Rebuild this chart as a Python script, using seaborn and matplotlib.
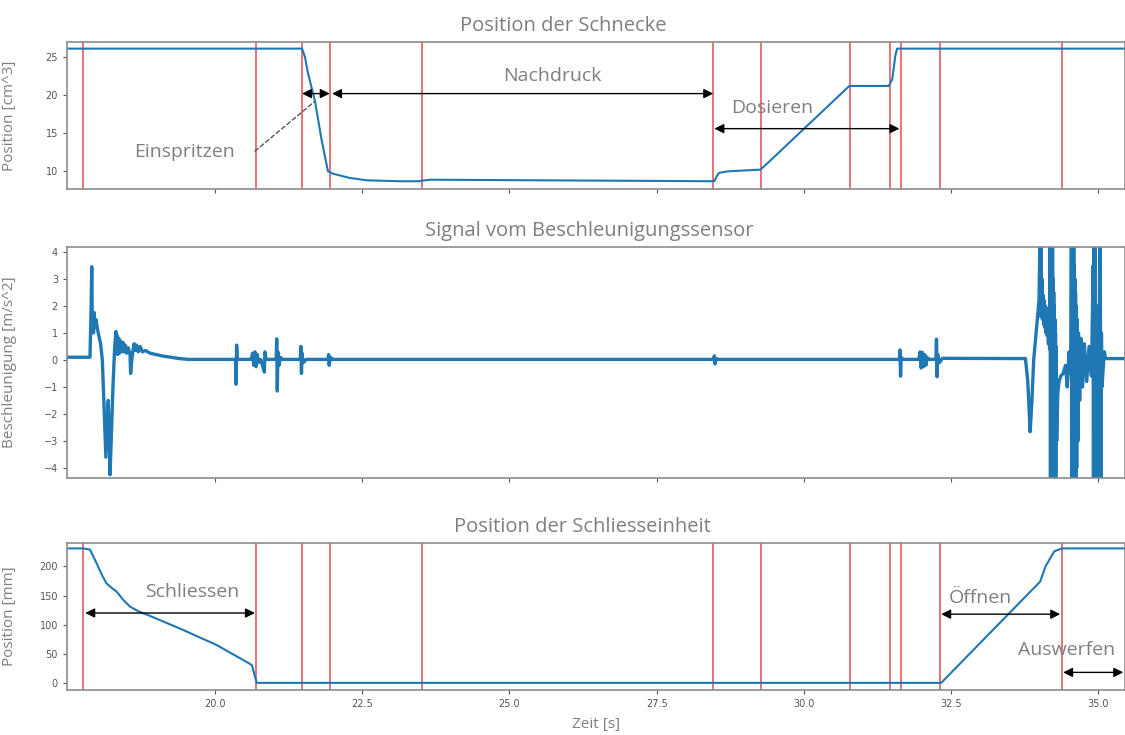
import numpy as np
import pandas as pd
import matplotlib
matplotlib.use("Agg")
import matplotlib.pyplot as plt
import seaborn as sns

# ---------------- data ----------------
# Screw position [cm^3]
screw_t = [17.49, 21.48, 21.53, 21.58, 21.70, 21.81, 21.92, 22.00, 22.29, 22.58, 23.14, 23.45,
           23.65, 25.5, 27.0, 28.40, 28.48, 28.53, 28.56, 28.71, 29.26, 29.40, 30.77, 31.44,
           31.50, 31.55, 31.58, 35.5]
screw_v = [26.1, 26.1, 25.0, 22.9, 19.2, 14.2, 10.0, 9.7, 9.13, 8.82, 8.70, 8.70,
           8.90, 8.82, 8.76, 8.70, 8.72, 9.50, 9.80, 10.0, 10.22, 11.2, 21.2, 21.2,
           22.1, 25.1, 26.1, 26.1]

# Acceleration [m/s^2]
acc_t = [17.49, 17.88, 17.90, 17.91, 17.92, 17.93, 17.94, 17.95, 17.96, 17.98, 18.02,
         18.06, 18.09, 18.12, 18.15, 18.17, 18.19, 18.21, 18.22, 18.24, 18.27, 18.30,
         18.32, 18.33, 18.34, 18.35, 18.37, 18.38, 18.40, 18.42, 18.44, 18.46, 18.48,
         18.50, 18.53, 18.56, 18.57, 18.59, 18.61, 18.63, 18.65, 18.67, 18.70, 18.73,
         18.77, 18.82, 18.90, 19.00, 19.10, 19.25, 19.40, 19.55, 20.35, 20.36, 20.37,
         20.38, 20.62, 20.64, 20.66, 20.68, 20.70, 20.72, 20.74, 20.78, 20.84, 20.85,
         20.87, 21.04, 21.05, 21.06, 21.07, 21.09, 21.11, 21.15, 21.45, 21.46, 21.47,
         21.48, 21.50, 21.55, 21.92, 21.93, 21.94, 21.96, 22.00, 28.46, 28.48, 28.49,
         28.51, 28.55, 31.62, 31.63, 31.64, 31.65, 31.68, 31.95, 31.97, 31.99, 32.01,
         32.03, 32.05, 32.07, 32.09, 32.12, 32.24, 32.25, 32.26, 32.27, 32.30, 32.35,
         33.76, 33.80, 33.84, 33.87, 33.90, 33.95, 33.99, 34.005, 34.01, 34.015, 34.02,
         34.025, 34.03, 34.04, 34.05, 34.06, 34.07, 34.08, 34.09, 34.10, 34.11, 34.12,
         34.13, 34.14, 34.15, 34.16, 34.17, 34.18, 34.185, 34.19, 34.195, 34.20, 34.205,
         34.21, 34.215, 34.22, 34.225, 34.23, 34.235, 34.24, 34.245, 34.25, 34.255, 34.26,
         34.265, 34.27, 34.275, 34.28, 34.29, 34.31, 34.33, 34.36, 34.40, 34.44, 34.47,
         34.50, 34.53, 34.54, 34.545, 34.55, 34.555, 34.56, 34.565, 34.57, 34.575, 34.58,
         34.585, 34.59, 34.595, 34.60, 34.605, 34.61, 34.615, 34.62, 34.63, 34.64, 34.65,
         34.66, 34.68, 34.70, 34.73, 34.76, 34.80, 34.84, 34.88, 34.91, 34.915, 34.92,
         34.93, 34.94, 34.95, 34.96, 34.97, 34.98, 34.99, 35.00, 35.01, 35.02, 35.025,
         35.03, 35.04, 35.05, 35.06, 35.08, 35.10, 35.12, 35.5]
acc_v = [0.10, 0.10, 2.0, 3.45, 1.1, 1.6, 1.0, 1.75, 1.2, 1.5, 1.0,
         0.6, 0.0, -1.8, -3.6, -2.5, -1.5, -3.0, -4.25, -3.0, -1.0, 0.5,
         1.05, 0.3, 0.9, 0.2, 0.8, 0.25, 0.7, 0.3, 0.65, 0.3, 0.55,
         0.25, 0.45, 0.2, -0.5, 0.0, 0.35, 0.6, 0.35, 0.55, 0.3, 0.5,
         0.3, 0.35, 0.25, 0.2, 0.15, 0.1, 0.05, 0.02, 0.02, -0.9, 0.55,
         0.02, 0.02, 0.25, -0.2, 0.3, -0.25, 0.2, -0.1, 0.02, -0.45, 0.3,
         0.02, 0.02, 0.78, -1.15, 0.3, -0.2, 0.1, 0.02, 0.02, 0.5, -0.5,
         0.25, -0.1, 0.02, 0.02, 0.2, -0.2, 0.1, 0.02, 0.02, 0.15, -0.15,
         0.05, 0.02, 0.02, 0.37, -0.6, 0.1, 0.02, 0.02, 0.3, -0.3, 0.28,
         -0.25, 0.2, -0.2, 0.1, 0.02, 0.02, 0.77, -0.62, 0.2, -0.1, 0.06,
         0.05, -0.8, -2.66, -1.5, 0.0, 1.2, 2.2, 4.3, 1.8, 4.3, 1.6,
         4.3, 2.0, 3.0, 1.5, 2.4, 1.3, 2.2, 1.2, 2.0, 1.0, 1.9,
         0.9, 1.6, 0.6, 1.4, 0.4, 4.3, -4.5, 4.3, -4.5, 4.3, -4.5,
         4.3, -4.5, 4.3, -4.5, 3.0, -4.5, 2.5, -4.5, 2.0, -4.5, 1.5,
         -4.5, 1.0, -4.5, 0.5, -3.0, -1.2, -0.8, -0.6, -0.5, -0.2, -1.0,
         0.3, -0.5, 4.3, -4.5, 4.3, -4.5, 4.3, -4.5, 4.3, -4.5, 4.3,
         -4.5, 3.5, -4.5, 3.0, -4.5, 2.5, -4.5, 2.0, -4.0, 1.5, -3.0,
         1.0, -1.5, 0.8, -1.0, 0.6, -0.8, 0.5, -0.6, 3.5, -4.5, 4.3,
         -4.5, 4.3, -2.0, 1.5, -4.5, 2.0, -2.0, 1.0, -1.5, 4.3, -4.5,
         4.3, -4.5, 1.0, -1.0, -0.3, 0.3, 0.05, 0.05]

# Clamping unit position [mm]
clamp_t = [17.49, 17.76, 17.88, 17.99, 18.08, 18.16, 18.25, 18.33, 18.45, 18.56, 18.70,
           18.90, 19.46, 20.03, 20.59, 20.63, 20.71, 32.33, 34.01, 34.10, 34.25, 34.38, 35.5]
clamp_v = [231, 231, 229, 206, 186, 171, 163, 157, 142, 131, 123,
           115, 91, 65, 33, 30, 0, 0, 174, 200, 226, 231, 231]

# Phase boundaries (red vertical lines) [s]
event_times = [17.76, 20.70, 21.48, 21.95, 23.51, 28.46, 29.27, 30.78, 31.46, 31.65, 32.31, 34.38]

x_ticks = [20.0, 22.5, 25.0, 27.5, 30.0, 32.5, 35.0]
x_tick_labels = ["20.0", "22.5", "25.0", "27.5", "30.0", "32.5", "35.0"]

titles = ["Position der Schnecke", "Signal vom Beschleunigungssensor", "Position der Schliesseinheit"]
ylabels = ["Position [cm^3]", "Beschleunigung [m/s^2]", "Position [mm]"]

# ---------------- style ----------------
sns.set_theme(style="white")
plt.rcParams["font.family"] = ["DejaVu Sans"]
LINE = "#1f77b4"
RED = "#e35b5e"
GREY = "#7f7f7f"
ANN_FONT = ["Open Sans", "DejaVu Sans"]

fig = plt.figure(figsize=(11.25, 7.35), dpi=100)
L = 67 / 1125
W = 1.0 - L
ax1 = fig.add_axes([L, 1 - 189 / 735, W, (189 - 42) / 735])
ax2 = fig.add_axes([L, 1 - 478 / 735, W, (478 - 247) / 735])
ax3 = fig.add_axes([L, 1 - 689.5 / 735, W, (689.5 - 543) / 735])
axes = [ax1, ax2, ax3]

df1 = pd.DataFrame({"t": screw_t, "v": screw_v})
df2 = pd.DataFrame({"t": acc_t, "v": acc_v})
df3 = pd.DataFrame({"t": clamp_t, "v": clamp_v})

sns.lineplot(data=df1, x="t", y="v", ax=ax1, color=LINE, lw=1.5, estimator=None, sort=False)
sns.lineplot(data=df2, x="t", y="v", ax=ax2, color=LINE, lw=2.4, estimator=None, sort=False)
sns.lineplot(data=df3, x="t", y="v", ax=ax3, color=LINE, lw=1.5, estimator=None, sort=False)

for ax in (ax1, ax3):
    for t in event_times:
        ax.axvline(t, color=RED, lw=1.2, zorder=1)

ax1.set_ylim(7.68, 26.97)
ax1.set_yticks([10, 15, 20, 25])
ax2.set_ylim(-4.37, 4.18)
ax2.set_yticks([-4, -3, -2, -1, 0, 1, 2, 3, 4])
ax3.set_ylim(-11.4, 240.3)
ax3.set_yticks([0, 50, 100, 150, 200])

title_x = [0.469, 0.494, 0.487]
for ax, ttl, yl, tx in zip(axes, titles, ylabels, title_x):
    ax.set_xlim(17.49, 35.45)
    ax.set_xticks(x_ticks)
    ax.set_title(ttl, x=tx, pad=8, fontsize=14.5, color=GREY, family=ANN_FONT)
    ax.set_ylabel(yl, fontsize=11, color=GREY, family=ANN_FONT)
    ax.yaxis.set_label_coords(-0.047, 0.5)
    ax.set_xlabel("")
    ax.tick_params(axis="both", which="major", length=3, width=0.8, colors="#555555",
                   labelsize=7, direction="out", bottom=True, left=True)
    for s in ax.spines.values():
        s.set_color("#8c8c8c")
        s.set_linewidth(1.2)

ax1.set_xticklabels([])
ax2.set_xticklabels([])
ax3.set_xticklabels(x_tick_labels)
ax3.set_xlabel("Zeit [s]", fontsize=11, color=GREY, family=ANN_FONT, labelpad=6)

arrow_kw = dict(arrowstyle="<|-|>", color="black", lw=1.0, mutation_scale=14, shrinkA=0, shrinkB=0)
txt_kw = dict(fontsize=14, color=GREY, family=ANN_FONT, ha="center", va="center")

# top panel annotations
ax1.annotate("", xy=(21.48, 20.2), xytext=(21.95, 20.2), arrowprops=arrow_kw)
ax1.annotate("", xy=(21.99, 20.2), xytext=(28.46, 20.2), arrowprops=arrow_kw)
ax1.annotate("", xy=(28.48, 15.6), xytext=(31.62, 15.6), arrowprops=arrow_kw)
ax1.text(25.73, 22.5, "Nachdruck", **txt_kw)
ax1.text(29.46, 18.35, "Dosieren", **txt_kw)
ax1.text(19.49, 12.6, "Einspritzen", **txt_kw)
ax1.annotate("", xy=(21.70, 19.2), xytext=(20.68, 12.65),
             arrowprops=dict(arrowstyle="-", color="#555555", lw=1.0, linestyle=(0, (3, 2)),
                             shrinkA=0, shrinkB=0))

# bottom panel annotations
ax3.annotate("", xy=(17.80, 120), xytext=(20.68, 120), arrowprops=arrow_kw)
ax3.annotate("", xy=(32.33, 118), xytext=(34.35, 118), arrowprops=arrow_kw)
ax3.annotate("", xy=(34.40, 18), xytext=(35.42, 18), arrowprops=arrow_kw)
ax3.text(19.61, 156, "Schliessen", **txt_kw)
ax3.text(32.99, 146, "Öffnen", **txt_kw)
ax3.text(34.45, 56, "Auswerfen", **txt_kw)

fig.savefig("out.png", dpi=100)
